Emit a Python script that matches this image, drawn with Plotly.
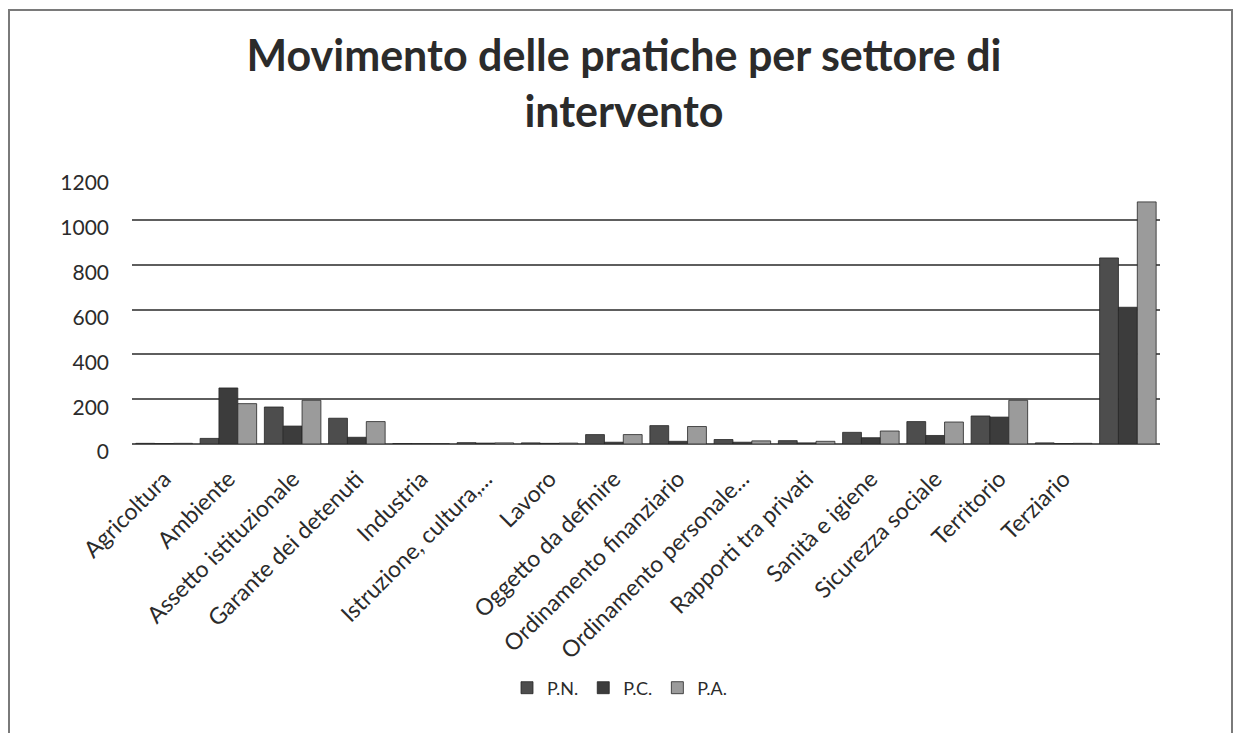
import plotly.graph_objects as go

categories = ["Agricoltura", "Ambiente", "Assetto istituzionale", "Garante dei detenuti",
              "Industria", "Istruzione, cultura,...", "Lavoro", "Oggetto da definire",
              "Ordinamento finanziario", "Ordinamento personale...", "Rapporti tra privati",
              "Sanità e igiene", "Sicurezza sociale", "Territorio", "Terziario", " "]
pn = [3, 25, 165, 115, 2, 6, 5, 42, 82, 20, 15, 52, 100, 125, 5, 830]
pc = [2, 250, 80, 30, 1, 4, 3, 8, 12, 8, 5, 28, 38, 120, 2, 610]
pa = [3, 180, 195, 100, 1, 5, 4, 42, 78, 14, 12, 58, 98, 195, 3, 1080]
series_names = ["P.N.", "P.C.", "P.A."]
colors = ["#4d4d4d", "#3c3c3c", "#9b9b9b"]
y_ticks = [0, 200, 400, 600, 800, 1000, 1200]

FONT = "Lato, 'Open Sans', sans-serif"
TXT = "#2b2b2b"

fig = go.Figure()
for name, vals, col in zip(series_names, [pn, pc, pa], colors):
    fig.add_trace(go.Bar(x=categories, y=vals, name=name,
                         marker=dict(color=col, line=dict(color="#262626", width=0.8))))

W, H = 1237, 733
L, R, T, B = 132, 77, 175, 289
pw, ph = W - L - R, H - T - B

def px_x(p):
    return (p - L) / pw

def px_y(p):
    return (H - B - p) / ph

fig.update_layout(
    width=W, height=H,
    margin=dict(l=L, r=R, t=T, b=B),
    paper_bgcolor="white", plot_bgcolor="white",
    barmode="group", bargap=0.12, bargroupgap=0,
    font=dict(family=FONT, color=TXT),
    title=dict(text="<b>Movimento delle pratiche per settore di<br>intervento</b>",
               x=624 / W, xanchor="center", y=1 - 71 / H, yanchor="top",
               font=dict(size=43, color=TXT, family=FONT)),
    showlegend=True,
    legend=dict(orientation="h", x=px_x(620), xanchor="center", y=px_y(688), yanchor="middle",
                font=dict(size=18, color=TXT), traceorder="normal"),
    xaxis=dict(type="category", tickangle=-45, tickfont=dict(size=23, color=TXT),
               showgrid=False, showline=False, ticks="", ticklabelstandoff=16),
    yaxis=dict(range=[0, 1200], tickvals=y_ticks, tickfont=dict(size=21, color=TXT),
               showgrid=True, gridcolor="#5e5e5e", gridwidth=2, zeroline=True,
               zerolinecolor="#5e5e5e", zerolinewidth=2, ticks="", ticklabelstandoff=22,
               ticklabelshift=8),
    shapes=[dict(type="rect", xref="paper", yref="paper",
                 x0=px_x(9), x1=px_x(1232), y0=px_y(745), y1=px_y(10),
                 line=dict(color="#7a7a7a", width=2), fillcolor="rgba(0,0,0,0)", layer="below")],
)

fig.write_html("out.html", config={"displayModeBar": False},
               post_script="document.body.style.margin='0';document.body.style.overflow='hidden';")
